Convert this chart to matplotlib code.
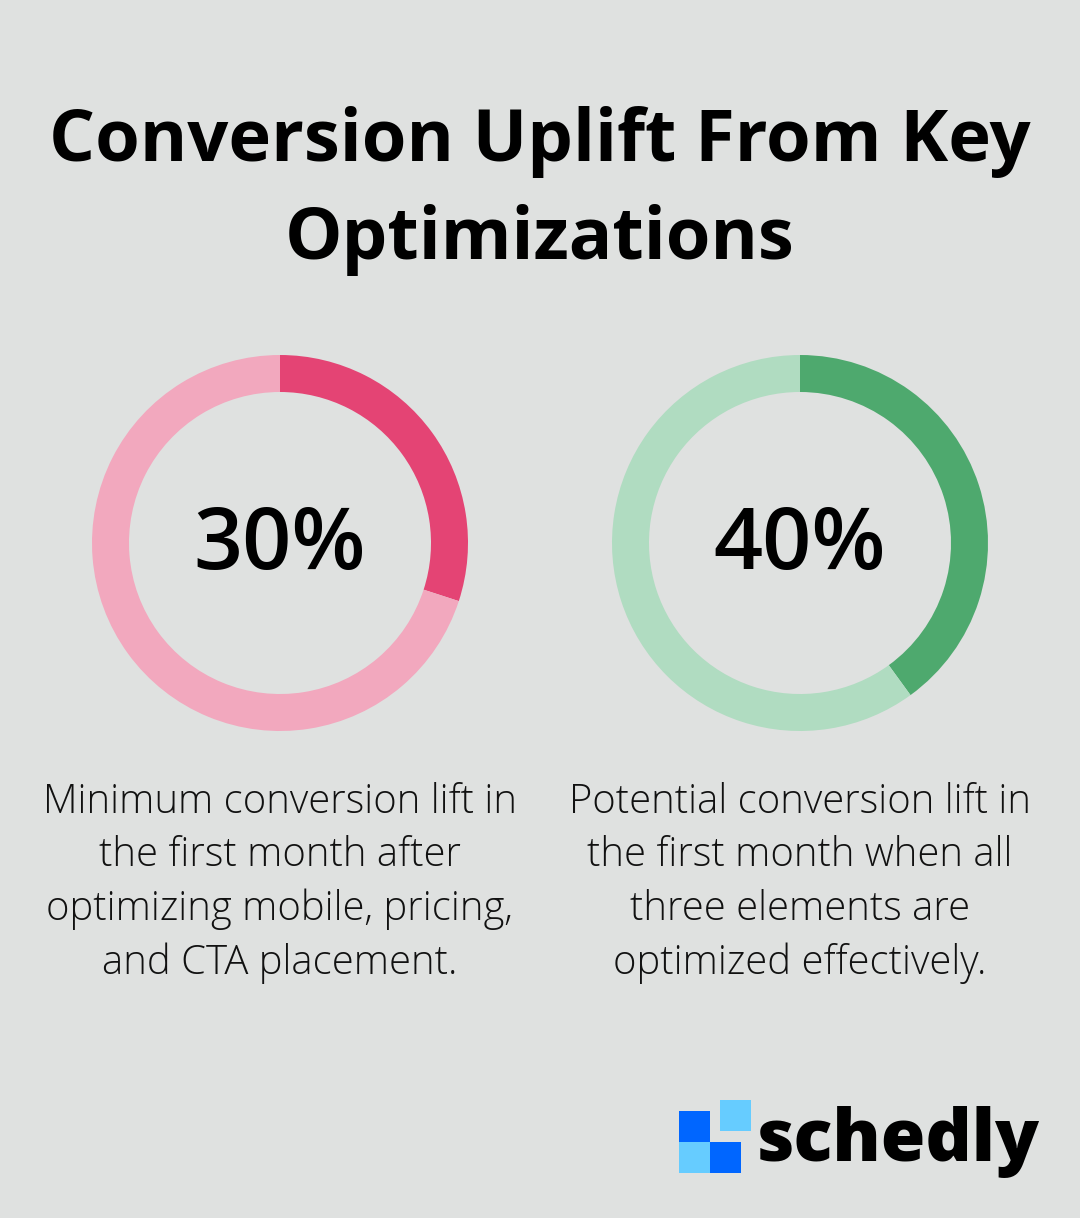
import matplotlib.pyplot as plt
from matplotlib.patches import Rectangle

plt.rcParams['font.family'] = ['Open Sans', 'DejaVu Sans']

title_lines = ["Conversion Uplift From Key", "Optimizations"]
values = [30, 40]
labels = ["30%", "40%"]
captions = [
    "Minimum conversion lift in\nthe first month after\noptimizing mobile, pricing,\nand CTA placement.",
    "Potential conversion lift in\nthe first month when all\nthree elements are\noptimized effectively.",
]
dark_colors = ["#e44474", "#4ea96e"]
light_colors = ["#f2a8be", "#b0dcc1"]

W, H = 1080, 1218
bg = "#dfe1e0"

fig = plt.figure(figsize=(W / 100, H / 100), dpi=100, facecolor=bg)


def px_axes(x0, y0, w, h):
    # pixel box measured from the top-left corner
    return fig.add_axes([x0 / W, 1 - (y0 + h) / H, w / W, h / H])


for line, y in zip(title_lines, [142, 240]):
    fig.text(0.5, 1 - y / H, line, ha="center", va="center",
             fontsize=52, fontweight="bold", color="black")

centers = [280, 800]
radius = 188
for cx, val, lab, cap, dc, lc in zip(centers, values, labels, captions, dark_colors, light_colors):
    ax = px_axes(cx - radius, 543 - radius, 2 * radius, 2 * radius)
    ax.pie([val, 100 - val], colors=[dc, lc], startangle=90, counterclock=False,
           radius=1, wedgeprops=dict(width=37 / radius, linewidth=0))
    ax.set_xlim(-1, 1)
    ax.set_ylim(-1, 1)
    ax.set_aspect("equal")
    ax.axis("off")
    ax.text(0, -0.02, lab, ha="center", va="center", fontsize=62,
            fontweight="semibold", color="black")
    fig.text(cx / W, 1 - 883 / H, cap, ha="center", va="center", fontsize=28.8,
             fontweight="light", color="#111111", linespacing=1.40)

# logo
lax = px_axes(0, 0, W, H)
lax.set_xlim(0, W)
lax.set_ylim(H, 0)
lax.axis("off")
squares = [(679, 1111, "#0066ff"), (720, 1100, "#66ccff"), (679, 1142, "#66ccff"), (710, 1142, "#0066ff")]
for sx, sy, c in squares:
    lax.add_patch(Rectangle((sx, sy), 31, 31, color=c, linewidth=0))
lax.text(756, 1161, "schedly", ha="left", va="baseline", fontsize=52,
         fontweight="heavy", color="black")

fig.savefig("out.png", dpi=100, facecolor=bg)
